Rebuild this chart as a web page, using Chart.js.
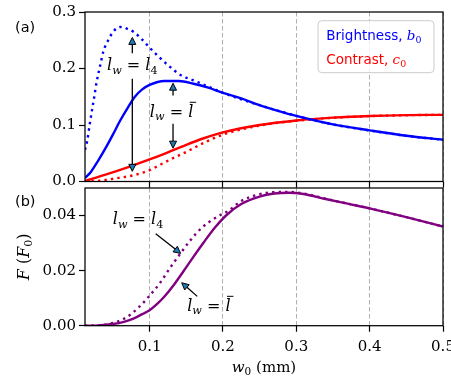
<!DOCTYPE html>
<html><head><meta charset="utf-8">
<script src="https://cdn.jsdelivr.net/npm/chart.js@4.4.1/dist/chart.umd.min.js"></script>
<style>
html,body{margin:0;padding:0;background:#fff;overflow:hidden;width:451px;height:379px;}
#wrap{position:relative;width:451px;height:379px;overflow:hidden;}
canvas{position:absolute;left:0;}
#ca{top:0;z-index:2;}
#cb{top:176px;z-index:1;}
</style></head><body>
<div id="wrap">
<canvas id="cb" width="470" height="203" style="width:470px;height:203px"></canvas>
<canvas id="ca" width="470" height="195" style="width:470px;height:195px"></canvas>
</div>
<script>
// ---------- data ----------
const W_MIN = 0.012, W_MAX = 0.5;
const xTicks  = [0.1, 0.2, 0.3, 0.4, 0.5];
const yTicksA = [0.0, 0.1, 0.2, 0.3];
const yTicksB = [0.00, 0.02, 0.04];
const Y_MAX_A = 0.3, Y_MAX_B = 0.05;

// panel (a) brightness b0, l_w = l-bar (solid)
const wBbar = [0.012,0.02,0.03,0.04,0.05,0.06,0.07,0.08,0.09,0.10,0.12,0.14,0.16,0.18,0.20,0.225,0.25,0.275,0.30,0.35,0.40,0.45,0.50];
const bBar  = [0.006,0.017,0.037,0.059,0.083,0.108,0.130,0.150,0.163,0.171,0.178,0.178,0.173,0.166,0.157,0.147,0.135,0.125,0.116,0.101,0.0905,0.081,0.074];
// panel (a) brightness b0, l_w = l4 (dotted)
const wB4 = [0.012,0.015,0.019,0.024,0.028,0.033,0.037,0.044,0.051,0.06,0.069,0.078,0.09,0.10,0.11,0.125,0.143,0.16,0.18,0.20,0.25,0.30,0.35,0.40,0.45,0.50];
const b4  = [0.056,0.072,0.106,0.145,0.177,0.207,0.230,0.251,0.266,0.2735,0.2705,0.265,0.251,0.237,0.224,0.206,0.188,0.179,0.168,0.157,0.135,0.1163,0.101,0.0903,0.0808,0.0738];
// panel (a) contrast c0, l-bar (solid)
const wCbar = [0.012,0.04,0.07,0.10,0.12,0.15,0.175,0.20,0.25,0.30,0.35,0.40,0.45,0.50];
const cBar  = [0.001,0.012,0.025,0.039,0.049,0.065,0.077,0.087,0.100,0.108,0.113,0.116,0.1175,0.118];
// panel (a) contrast c0, l4 (dotted)
const wC4 = [0.012,0.03,0.051,0.078,0.10,0.115,0.13,0.143,0.16,0.175,0.20,0.25,0.30,0.35,0.40,0.45,0.50];
const c4  = [0.0,0.001,0.005,0.011,0.020,0.030,0.040,0.048,0.059,0.069,0.083,0.099,0.1075,0.1128,0.1158,0.1173,0.118];
// panel (b) F, l-bar (solid)
const wFbar = [0.012,0.03,0.05,0.065,0.078,0.09,0.10,0.11,0.12,0.133,0.146,0.16,0.174,0.19,0.205,0.225,0.25,0.27,0.29,0.31,0.34,0.37,0.40,0.45,0.50];
const fBar  = [0,0.0001,0.0006,0.0014,0.0026,0.0042,0.0056,0.0078,0.0105,0.0148,0.0197,0.0251,0.0303,0.0359,0.0402,0.0442,0.0469,0.0480,0.0483,0.0478,0.0460,0.0443,0.0426,0.0394,0.036];
// panel (b) F, l4 (dotted)
const wF4 = [0.012,0.037,0.055,0.069,0.085,0.101,0.115,0.128,0.142,0.155,0.171,0.19,0.208,0.225,0.248,0.27,0.29,0.31,0.34,0.40,0.45,0.50];
const f4  = [0,0.0003,0.0014,0.0031,0.0066,0.0112,0.0158,0.021,0.0262,0.0308,0.0355,0.0392,0.0418,0.0453,0.0476,0.0485,0.0486,0.0480,0.0461,0.0426,0.0394,0.036];

const legendLabels = ['Brightness, ', 'Contrast, '];
const legendSymbols = ['b', 'c'];

// ---------- annotation anchors (data coordinates) ----------
const L4   = [['l','i'],['w','i',1],[' = ','r'],['l','i'],['4','r',1]];
const LBAR = [['l','i'],['w','i',1],[' = ','r'],['l','i',0,1]];
const textA  = [[L4, 0.0765, 0.1965], [LBAR, 0.130, 0.1147]];
const arrowA = [[0.0765,0.227,0.0765,0.255],[0.0765,0.182,0.0765,0.018],[0.132,0.152,0.132,0.174],[0.132,0.102,0.132,0.059]];
const textB  = [[L4, 0.0843, 0.0368], [LBAR, 0.1808, 0.00544]];
const arrowB = [[0.1084,0.0334,0.1424,0.02625],[0.165,0.01065,0.1438,0.0156]];

// ---------- helpers ----------
const SERIF = '"DejaVu Serif", serif', SANS = '"DejaVu Sans", sans-serif';
function setFont(ctx, style, size){
  ctx.font = (style === 'i' ? 'italic ' : '') + size + 'px ' + (style === 's' ? SANS : SERIF);
}
function rich(ctx, parts, x, y, align, size){
  const sub = size * 0.7;
  const widths = parts.map(p => { setFont(ctx, p[1], p[2] ? sub : size); return ctx.measureText(p[0]).width; });
  const total = widths.reduce((a, b) => a + b, 0);
  let cx = align === 'center' ? x - total / 2 : x;
  ctx.textAlign = 'left'; ctx.textBaseline = 'alphabetic';
  parts.forEach((p, i) => {
    const sz = p[2] ? sub : size;
    setFont(ctx, p[1], sz);
    const yy = p[2] ? y + size * 0.2 : y;
    ctx.fillText(p[0], cx, yy);
    if (p[3]) {
      ctx.save(); ctx.lineWidth = 1; ctx.strokeStyle = ctx.fillStyle;
      ctx.beginPath(); ctx.moveTo(cx + size * 0.1, yy - size * 0.9); ctx.lineTo(cx + size * 0.5, yy - size * 0.9); ctx.stroke();
      ctx.restore();
    }
    cx += widths[i];
  });
}
function arrow(ctx, x1, y1, x2, y2){
  const dx = x2 - x1, dy = y2 - y1, L = Math.hypot(dx, dy), ux = dx / L, uy = dy / L;
  const hl = 7, hw = 3.5;
  const bx = x2 - ux * hl, by = y2 - uy * hl;
  ctx.save();
  ctx.strokeStyle = '#000'; ctx.lineWidth = 1.3;
  ctx.beginPath(); ctx.moveTo(x1, y1); ctx.lineTo(bx, by); ctx.stroke();
  ctx.beginPath(); ctx.moveTo(x2, y2); ctx.lineTo(bx - uy * hw, by + ux * hw); ctx.lineTo(bx + uy * hw, by - ux * hw); ctx.closePath();
  ctx.fillStyle = '#1f77b4'; ctx.fill(); ctx.lineWidth = 1; ctx.stroke();
  ctx.restore();
}
function pts(xs, ys){ return xs.map((x, i) => ({x: x, y: ys[i]})); }
function line(label, xs, ys, color, dotted){
  return {label, data: pts(xs, ys), borderColor: color, backgroundColor: color, borderWidth: 2.4,
    borderDash: dotted ? [2.4, 4.1] : [], borderCapStyle: 'butt', pointRadius: 0, fill: false,
    cubicInterpolationMode: 'monotone', clip: 0};
}
function xScale(showLabels, height){
  return {type: 'linear', min: W_MIN, max: W_MAX,
    afterBuildTicks: s => { s.ticks = xTicks.map(v => ({value: v})); },
    afterFit: s => { s.height = height; },
    grid: {color: '#b0b0b0', lineWidth: 1, borderDash: [4.5, 2.5], drawTicks: true, tickLength: 6,
      tickColor: '#000', tickWidth: 1.2, tickBorderDash: []},
    border: {display: false, dash: [4.5, 2.5]},
    ticks: {display: showLabels, color: '#000', font: {family: SERIF, size: 15}, padding: 6,
      maxRotation: 0, autoSkip: false, callback: v => Number(v).toFixed(1)}};
}
function yScale(max, ticks, dec){
  return {min: 0, max: max,
    afterBuildTicks: s => { s.ticks = ticks.map(v => ({value: v})); },
    afterFit: s => { s.width = 85; },
    grid: {color: 'rgba(0,0,0,0)', drawTicks: true, tickLength: 6, tickColor: '#000', tickWidth: 1.2},
    border: {display: false},
    ticks: {color: '#000', font: {family: SERIF, size: 15}, padding: 3, callback: v => Number(v).toFixed(dec)}};
}
const base = {responsive: false, animation: false, devicePixelRatio: 1,
  plugins: {legend: {display: false}, tooltip: {enabled: false}}};

// ---------- panel (a) ----------
new Chart(document.getElementById('ca'), {
  type: 'line',
  data: {datasets: [
    line('b0 lbar', wBbar, bBar, '#0000ff', false),
    line('b0 l4', wB4, b4, '#0000ff', true),
    line('c0 lbar', wCbar, cBar, '#ff0000', false),
    line('c0 l4', wC4, c4, '#ff0000', true)
  ]},
  options: Object.assign({}, base, {
    layout: {padding: {top: 12, right: 27, bottom: 0, left: 0}},
    scales: {x: xScale(false, 13.5), y: yScale(Y_MAX_A, yTicksA, 1)}
  }),
  plugins: [{id: 'decoA', afterDraw(chart){
    const {ctx, chartArea: a, scales: {x, y}} = chart;
    ctx.save();
    ctx.strokeStyle = '#000'; ctx.lineWidth = 1.25;
    ctx.strokeRect(a.left, a.top, a.right - a.left, a.bottom - a.top);
    ctx.fillStyle = '#000'; setFont(ctx, 's', 14.5); ctx.textAlign = 'left'; ctx.textBaseline = 'alphabetic';
    ctx.fillText('(a)', a.left - 70, a.top + 19.5);
    textA.forEach(t => { ctx.fillStyle = '#000'; rich(ctx, t[0], x.getPixelForValue(t[1]), y.getPixelForValue(t[2]), 'center', 16); });
    arrowA.forEach(r => arrow(ctx, x.getPixelForValue(r[0]), y.getPixelForValue(r[1]), x.getPixelForValue(r[2]), y.getPixelForValue(r[3])));
    // legend
    const w = 116, h = 52, lx = a.right - 9 - w, ly = a.top + 8.7;
    ctx.beginPath(); ctx.roundRect(lx, ly, w, h, 4);
    ctx.fillStyle = 'rgba(255,255,255,0.8)'; ctx.fill();
    ctx.strokeStyle = '#cccccc'; ctx.lineWidth = 1; ctx.stroke();
    const cols = ['#0000ff', '#ff0000'];
    legendLabels.forEach((lab, i) => {
      ctx.fillStyle = cols[i];
      rich(ctx, [[lab, 's'], [legendSymbols[i], 'i'], ['0', 'r', 1]], lx + 8.3, ly + 19.3 + i * 24, 'left', 13.5);
    });
    ctx.restore();
  }}]
});

// ---------- panel (b) ----------
new Chart(document.getElementById('cb'), {
  type: 'line',
  data: {datasets: [
    line('F lbar', wFbar, fBar, '#800080', false),
    line('F l4', wF4, f4, '#800080', true)
  ]},
  options: Object.assign({}, base, {
    layout: {padding: {top: 5.5, right: 27, bottom: 0, left: 0}},
    scales: {x: xScale(true, 53.3), y: yScale(Y_MAX_B, yTicksB, 2)}
  }),
  plugins: [{id: 'decoB', afterDraw(chart){
    const {ctx, chartArea: a, scales: {x, y}} = chart;
    ctx.save();
    ctx.strokeStyle = '#000'; ctx.lineWidth = 1.25;
    ctx.strokeRect(a.left, a.top, a.right - a.left, a.bottom - a.top);
    ctx.fillStyle = '#000'; setFont(ctx, 's', 14.5); ctx.textAlign = 'left'; ctx.textBaseline = 'alphabetic';
    ctx.fillText('(b)', a.left - 70, a.top + 17.5);
    textB.forEach(t => { ctx.fillStyle = '#000'; rich(ctx, t[0], x.getPixelForValue(t[1]), y.getPixelForValue(t[2]), 'center', 16); });
    arrowB.forEach(r => arrow(ctx, x.getPixelForValue(r[0]), y.getPixelForValue(r[1]), x.getPixelForValue(r[2]), y.getPixelForValue(r[3])));
    // axis titles
    ctx.fillStyle = '#000';
    rich(ctx, [['w', 'i'], ['0', 'r', 1], [' (mm)', 'r']], (a.left + a.right) / 2, a.bottom + 46.3, 'center', 15);
    ctx.save();
    ctx.translate(a.left - 56.5, (a.top + a.bottom) / 2);
    ctx.rotate(-Math.PI / 2);
    rich(ctx, [['F', 'i'], [' (', 'r'], ['F', 'i'], ['0', 'r', 1], [')', 'r']], 0, 0, 'center', 16);
    ctx.restore();
    ctx.restore();
  }}]
});
</script>
</body></html>
